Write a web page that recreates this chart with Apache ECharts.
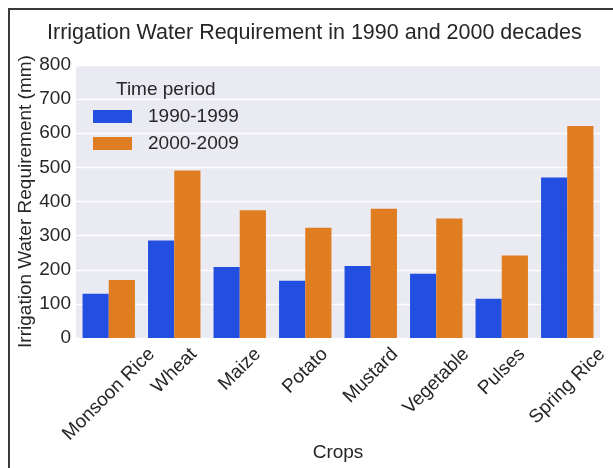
<!DOCTYPE html>
<html>
<head>
<meta charset="utf-8">
<script src="https://cdn.jsdelivr.net/npm/echarts@6/dist/echarts.min.js"></script>
<style>
  html, body { margin: 0; padding: 0; background: #fff; }
  #chart { position: absolute; left: 0; top: 0; width: 613px; height: 468px; }
  #frame { position: absolute; left: 8px; top: 8px; width: 605px; height: 460px;
           border-left: 2px solid #3a3a3a; border-top: 2px solid #3a3a3a; pointer-events: none; }
</style>
</head>
<body>
<div id="chart"></div>
<div id="frame"></div>
<script>
// data
const categories = ['Monsoon Rice', 'Wheat', 'Maize', 'Potato', 'Mustard', 'Vegetable', 'Pulses', 'Spring Rice'];
const periods = ['1990-1999', '2000-2009'];
const values1990 = [130, 286, 208, 168, 211, 188, 115, 470];
const values2000 = [170, 491, 374, 323, 379, 350, 242, 621];
const yMin = 0, yMax = 800, yStep = 100;

const font = '"Liberation Sans", Arial, sans-serif';
const textColor = '#262626';
const fs = 19;

// rotated x labels: centre them under the tick like matplotlib does
const ctx = document.createElement('canvas').getContext('2d');
ctx.font = fs + 'px "Liberation Sans"';
const rich = {};
categories.forEach((c, i) => {
    const w = ctx.measureText(c).width;
    const p = (w + fs * 1.1) / 2;
    rich['c' + i] = { padding: [p, p, 0, 0], fontSize: fs, fontFamily: font, color: textColor };
});

const chart = echarts.init(document.getElementById('chart'), null, { renderer: 'canvas' });

const option = {
    backgroundColor: '#fff',
    animation: false,
    title: [
        { text: 'Irrigation Water Requirement in 1990 and 2000 decades', left: 47, top: 22, padding: 0,
          textStyle: { fontFamily: font, fontSize: 21.5, fontWeight: 'normal', color: textColor } },
        { text: 'Time period', left: 116, top: 80, padding: 0,
          textStyle: { fontFamily: font, fontSize: fs, fontWeight: 'normal', color: textColor } }
    ],
    legend: {
        orient: 'vertical', left: 93, top: 107, padding: 0,
        itemWidth: 39, itemHeight: 13, itemGap: 8,
        icon: 'rect',
        data: periods,
        textStyle: { fontFamily: font, fontSize: fs, color: textColor, lineHeight: 19, padding: [0, 0, 0, 11] }
    },
    grid: { left: 76, right: 13, top: 65, bottom: 130, containLabel: false, outerBoundsMode: 'none',
            show: true, backgroundColor: '#EAEAF2', borderWidth: 0 },
    xAxis: {
        type: 'category', data: categories,
        name: 'Crops', nameLocation: 'middle', nameGap: 105, nameMoveOverlap: false,
        nameTextStyle: { fontFamily: font, fontSize: fs, color: textColor },
        axisLine: { show: false }, axisTick: { show: false },
        axisLabel: {
            interval: 0, rotate: 45, margin: 6, align: 'center', verticalAlign: 'middle',
            fontFamily: font, fontSize: fs, color: textColor,
            formatter: (v, i) => '{c' + i + '|' + v + '}',
            rich: rich
        },
        splitLine: { show: false }
    },
    yAxis: {
        type: 'value', min: yMin, max: yMax, interval: yStep,
        name: 'Irrigation Water Requirement (mm)', nameLocation: 'middle', nameGap: 41, nameMoveOverlap: false,
        nameTextStyle: { fontFamily: font, fontSize: fs, color: textColor },
        axisLine: { show: false }, axisTick: { show: false },
        axisLabel: { margin: 5, fontFamily: font, fontSize: fs, color: textColor },
        splitLine: { show: true, lineStyle: { color: '#ffffff', width: 1.3 } }
    },
    series: [
        { name: periods[0], type: 'bar', data: values1990, barGap: '0%', barCategoryGap: '20%',
          itemStyle: { color: '#224FDF' } },
        { name: periods[1], type: 'bar', data: values2000, barGap: '0%', barCategoryGap: '20%',
          itemStyle: { color: '#DF7D20' } }
    ]
};

chart.setOption(option);
</script>
</body>
</html>
